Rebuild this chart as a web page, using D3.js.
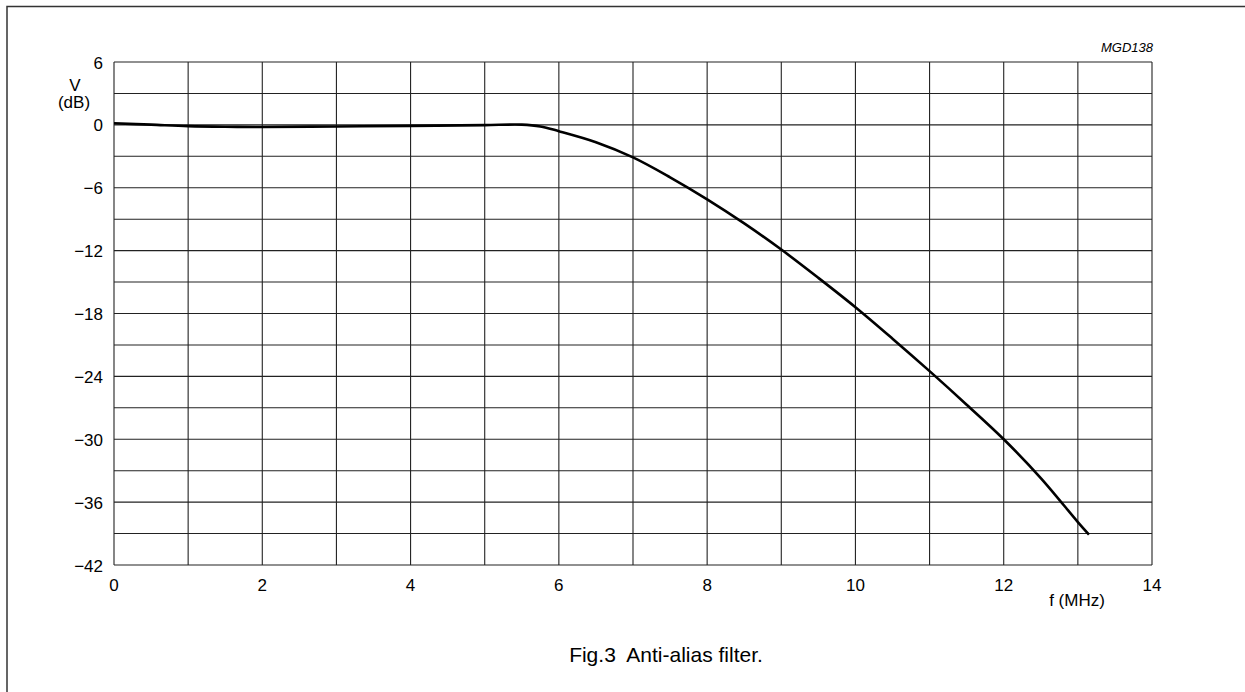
<!DOCTYPE html>
<html><head><meta charset="utf-8">
<script src="https://cdn.jsdelivr.net/npm/d3@7"></script>
<style>body{margin:0;background:#fff}svg{display:block;font-family:"Liberation Sans",Arial,sans-serif}</style>
</head><body>
<script>
const freq = [0, 0.5, 1, 1.5, 2, 3, 4, 5, 5.5, 5.75, 6, 6.5, 7, 7.5, 8, 8.5, 9, 9.5, 10, 10.5, 11, 11.5, 12, 12.5, 13, 13.15];
const gain = [0.15, 0.02, -0.12, -0.18, -0.2, -0.15, -0.1, -0.02, 0.02, -0.15, -0.6, -1.65, -3.1, -5.0, -7.1, -9.4, -11.9, -14.6, -17.4, -20.4, -23.5, -26.7, -30.0, -33.7, -37.9, -39.1];
const xTicks = [0, 2, 4, 6, 8, 10, 12, 14];
const yTicks = [6, 0, -6, -12, -18, -24, -30, -36, -42];
const xGrid = d3.range(0, 15, 1);
const yGrid = d3.range(-42, 7, 3);

const W = 1245, H = 692;
const svg = d3.select("body").append("svg").attr("width", W).attr("height", H);
svg.append("rect").attr("x", 7).attr("y", 6.5).attr("width", W + 10).attr("height", H + 10)
  .attr("fill", "none").attr("stroke", "#333").attr("stroke-width", 1.5);

const x = d3.scaleLinear().domain([0, 14]).range([114, 1152]);
const y = d3.scaleLinear().domain([-42, 6]).range([565, 62]);

const g = svg.append("g");
g.selectAll("line.v").data(xGrid).join("line")
  .attr("x1", d => x(d)).attr("x2", d => x(d)).attr("y1", y(6)).attr("y2", y(-42))
  .attr("stroke", "#222").attr("stroke-width", 1.1);
g.selectAll("line.h").data(yGrid).join("line")
  .attr("y1", d => y(d)).attr("y2", d => y(d)).attr("x1", x(0)).attr("x2", x(14))
  .attr("stroke", "#222").attr("stroke-width", 1.1);

svg.selectAll("text.yt").data(yTicks).join("text")
  .attr("x", 103).attr("y", d => y(d) + 6.5).attr("text-anchor", "end")
  .attr("font-size", 17).attr("fill", "#000")
  .text(d => d < 0 ? "\u2212" + Math.abs(d) : d);
svg.selectAll("text.xt").data(xTicks).join("text")
  .attr("x", d => x(d)).attr("y", 591).attr("text-anchor", "middle")
  .attr("font-size", 17).attr("fill", "#000").text(d => d);

svg.append("text").attr("x", 75).attr("y", 91).attr("text-anchor", "middle").attr("font-size", 17).text("V");
svg.append("text").attr("x", 74).attr("y", 108).attr("text-anchor", "middle").attr("font-size", 17).text("(dB)");
svg.append("text").attr("x", 1077).attr("y", 606).attr("text-anchor", "middle").attr("font-size", 17).text("f (MHz)");
svg.append("text").attr("x", 1153).attr("y", 52).attr("text-anchor", "end").attr("font-size", 13).attr("font-style", "italic").text("MGD138");
svg.append("text").attr("x", 666).attr("y", 662).attr("text-anchor", "middle").attr("font-size", 21).style("white-space","pre").text("Fig.3  Anti-alias filter.");

const data = freq.map((f, i) => [f, gain[i]]);
svg.append("path").datum(data)
  .attr("d", d3.line().x(d => x(d[0])).y(d => y(d[1])).curve(d3.curveCatmullRom.alpha(0.5)))
  .attr("fill", "none").attr("stroke", "#000").attr("stroke-width", 2.6);
</script>
</body></html>
